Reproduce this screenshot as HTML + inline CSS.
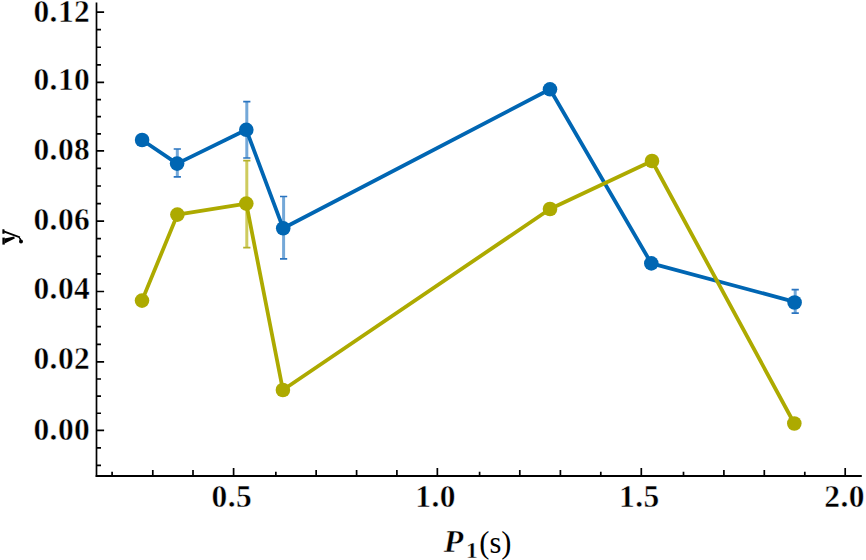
<!DOCTYPE html><html><head><meta charset="utf-8"><style>html,body{margin:0;padding:0;background:#fff;width:866px;height:560px;overflow:hidden}svg{display:block}text{font-family:"Liberation Serif",serif}</style></head><body>
<svg width="866" height="560" viewBox="0 0 866 560">
<path d="M96.5,2.4V477.0" stroke="#000" stroke-width="1.7" fill="none"/>
<path d="M95.7,476.0H861.8" stroke="#000" stroke-width="2" fill="none"/>
<path d="M96.5,430.40h7.6 M96.5,413.27h4.5 M96.5,396.15h4.5 M96.5,379.02h4.5 M96.5,361.90h7.6 M96.5,344.30h4.5 M96.5,326.70h4.5 M96.5,309.10h4.5 M96.5,291.50h7.6 M96.5,273.90h4.5 M96.5,256.30h4.5 M96.5,238.70h4.5 M96.5,221.10h7.6 M96.5,203.55h4.5 M96.5,186.00h4.5 M96.5,168.45h4.5 M96.5,150.90h7.6 M96.5,133.78h4.5 M96.5,116.65h4.5 M96.5,99.53h4.5 M96.5,82.40h7.6 M96.5,64.81h4.5 M96.5,47.23h4.5 M96.5,29.64h4.5 M96.5,12.05h7.6 M96.5,447.80h4.5 M96.5,465.30h4.5 M112.10,476.0v-4.2 M152.80,476.0v-6.0 M193.00,476.0v-6.0 M233.60,476.0v-8.0 M275.85,476.0v-4.2 M316.15,476.0v-6.0 M356.60,476.0v-6.0 M396.90,476.0v-6.0 M437.35,476.0v-8.0 M479.60,476.0v-4.2 M519.80,476.0v-6.0 M560.40,476.0v-6.0 M600.80,476.0v-4.2 M641.30,476.0v-8.0 M683.50,476.0v-4.2 M723.90,476.0v-6.0 M764.30,476.0v-6.0 M804.80,476.0v-4.2 M845.20,476.0v-8.0" stroke="#000" stroke-width="1.7" fill="none"/>
<text x="90.2" y="439.72" font-size="31.5" font-weight="bold" text-anchor="end" letter-spacing="0.4" stroke="#fff" stroke-width="0.45">0.00</text>
<text x="90.2" y="369.37" font-size="31.5" font-weight="bold" text-anchor="end" letter-spacing="0.4" stroke="#fff" stroke-width="0.45">0.02</text>
<text x="90.2" y="299.02" font-size="31.5" font-weight="bold" text-anchor="end" letter-spacing="0.4" stroke="#fff" stroke-width="0.45">0.04</text>
<text x="90.2" y="230.32" font-size="31.5" font-weight="bold" text-anchor="end" letter-spacing="0.4" stroke="#fff" stroke-width="0.45">0.06</text>
<text x="90.2" y="160.22" font-size="31.5" font-weight="bold" text-anchor="end" letter-spacing="0.4" stroke="#fff" stroke-width="0.45">0.08</text>
<text x="90.2" y="89.87" font-size="31.5" font-weight="bold" text-anchor="end" letter-spacing="0.4" stroke="#fff" stroke-width="0.45">0.10</text>
<text x="90.2" y="21.57" font-size="31.5" font-weight="bold" text-anchor="end" letter-spacing="0.4" stroke="#fff" stroke-width="0.45">0.12</text>
<text x="231.9" y="506.6" font-size="31.5" font-weight="bold" text-anchor="middle" letter-spacing="0.4" stroke="#fff" stroke-width="0.45">0.5</text>
<text x="435.6" y="506.6" font-size="31.5" font-weight="bold" text-anchor="middle" letter-spacing="0.4" stroke="#fff" stroke-width="0.45">1.0</text>
<text x="639.3" y="506.6" font-size="31.5" font-weight="bold" text-anchor="middle" letter-spacing="0.4" stroke="#fff" stroke-width="0.45">1.5</text>
<text x="844.6" y="506.6" font-size="31.5" font-weight="bold" text-anchor="middle" letter-spacing="0.4" stroke="#fff" stroke-width="0.45">2.0</text>
<text x="443.7" y="552.3" font-size="32" font-weight="bold" font-style="italic" stroke="#fff" stroke-width="0.45">P</text>
<text x="466" y="557.6" font-size="23.5" font-weight="bold" stroke="#fff" stroke-width="0.35">1</text>
<text x="479.3" y="552.5" font-size="30.5">(s)</text>
<g fill="#000" stroke="none"><path d="M2.4,229.2 L4.4,229.2 L4.6,233.8 L2.4,233.8Z"/><path d="M4,230.6 L20.2,236.6 L19.8,238.2 L4,232.4Z"/><path d="M2.4,237.6 L4.8,237.6 L4.8,244.6 L2.4,244.6Z"/><path d="M4.6,238.6 L14.2,236.6 L14.8,238.4 L4.6,243.6Z"/><path d="M19.2,237 Q21.6,238.2 21.4,240.6 L19.6,240.4 Q19.6,238.8 18.8,238.2Z"/><circle cx="21" cy="241.6" r="2"/></g>
<path d="M177.3,149.0V176.9" stroke="#74a8d8" stroke-width="3" fill="none"/><path d="M173.70000000000002,149.0h7.2M173.70000000000002,176.9h7.2" stroke="#2a74c0" stroke-width="1.7" fill="none"/><path d="M246.8,101.6V158.0" stroke="#74a8d8" stroke-width="3" fill="none"/><path d="M243.20000000000002,101.6h7.2M243.20000000000002,158.0h7.2" stroke="#2a74c0" stroke-width="1.7" fill="none"/><path d="M283.6,196.5V258.8" stroke="#74a8d8" stroke-width="3" fill="none"/><path d="M280.0,196.5h7.2M280.0,258.8h7.2" stroke="#2a74c0" stroke-width="1.7" fill="none"/><path d="M795.2,289.7V313.2" stroke="#74a8d8" stroke-width="3" fill="none"/><path d="M791.6,289.7h7.2M791.6,313.2h7.2" stroke="#2a74c0" stroke-width="1.7" fill="none"/>
<path d="M142.1,140.0 L177.1,163.6 L246.3,129.8 L283.2,228.3 L550.0,89.3 L651.3,263.4 L794.6,301.8" stroke="#0066b3" stroke-width="3.8" fill="none" stroke-linejoin="round"/><circle cx="142.1" cy="140.0" r="7.3" fill="#0066b3"/><circle cx="177.1" cy="163.6" r="7.3" fill="#0066b3"/><circle cx="246.3" cy="129.8" r="7.3" fill="#0066b3"/><circle cx="283.2" cy="228.3" r="7.3" fill="#0066b3"/><circle cx="550.0" cy="89.3" r="7.3" fill="#0066b3"/><circle cx="651.3" cy="263.4" r="7.3" fill="#0066b3"/><circle cx="794.6" cy="302.5" r="7.3" fill="#0066b3"/>
<path d="M246.8,160.6V247.7" stroke="#cecb5e" stroke-width="3" fill="none"/><path d="M243.20000000000002,160.6h7.2M243.20000000000002,247.7h7.2" stroke="#b5b02a" stroke-width="1.7" fill="none"/>
<path d="M142.0,300.6 L177.4,214.6 L246.3,203.6 L282.9,390.0 L550.0,209.0 L652.0,161.0 L794.3,423.5" stroke="#adaa00" stroke-width="3.8" fill="none" stroke-linejoin="round"/><circle cx="142.0" cy="300.6" r="7.3" fill="#adaa00"/><circle cx="177.4" cy="214.6" r="7.3" fill="#adaa00"/><circle cx="246.3" cy="203.6" r="7.3" fill="#adaa00"/><circle cx="282.9" cy="390.0" r="7.3" fill="#adaa00"/><circle cx="550.0" cy="209.0" r="7.3" fill="#adaa00"/><circle cx="652.0" cy="161.0" r="7.3" fill="#adaa00"/><circle cx="794.3" cy="423.5" r="7.3" fill="#adaa00"/>
</svg></body></html>
